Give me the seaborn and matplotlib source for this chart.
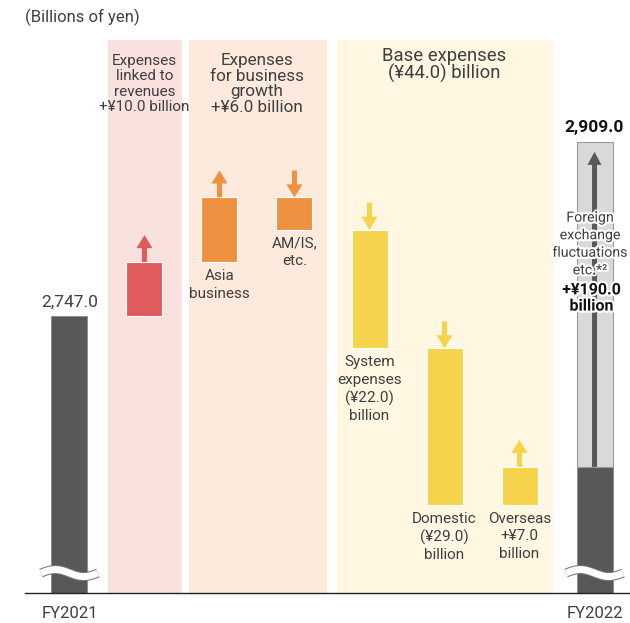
import numpy as np
import matplotlib
matplotlib.use('Agg')
import matplotlib.pyplot as plt
import matplotlib.patheffects as pe
from matplotlib.transforms import offset_copy, blended_transform_factory
import seaborn as sns

# ---- data (billions of yen) ----
categories = ['FY2021', 'Linked to revenues', 'Asia business', 'AM/IS, etc.',
              'System expenses', 'Domestic', 'Overseas', 'FY2022']
start_value = 2747.0
changes = [10.0, 12.0, -6.0, -22.0, -29.0, 7.0]
fx_change = 190.0
end_value = 2909.0
start_label = '2,747.0'
end_label = '2,909.0'
bar_labels = ['', 'Asia\nbusiness', 'AM/IS,\netc.', 'System\nexpenses\n(¥22.0)\nbillion',
              'Domestic\n(¥29.0)\nbillion', 'Overseas\n+¥7.0\nbillion']
group_titles = ['Expenses\nlinked to\nrevenues\n+¥10.0 billion',
                'Expenses\nfor business\ngrowth\n+¥6.0 billion',
                'Base expenses\n(¥44.0) billion']
group_members = [(1, 1), (2, 3), (4, 6)]
fx_text = 'Foreign\nexchange\nfluctuations\netc.*²'
fx_amount = '+¥190.0\nbillion'
tick_labels = ['FY2021', '', '', '', '', '', '', 'FY2022']

# ---- style ----
dark = '#595757'
light = '#d9d9d9'
txt = '#3f3f3f'
bar_colors = ['#e05c5c', '#ee9141', '#ee9141', '#f5d34b', '#f5d34b', '#f5d34b']
band_colors = ['#f9e1de', '#fdeadc', '#fff7e1']
band_pads = [(0.49, 0.50), (0.41, 0.43), (0.43, 0.45)]

sns.set_style('white')
plt.rcParams['font.family'] = ['Roboto', 'DejaVu Sans']

# broken axis: values above brk are squeezed so FY2022 fits
brk, squeeze = 2770.0, 0.067
axis_floor = 2695.6


def fwd(y):
    y = np.asarray(y, dtype=float)
    return np.where(y <= brk, y, brk + (y - brk) * squeeze)


def inv(y):
    y = np.asarray(y, dtype=float)
    return np.where(y <= brk, y, brk + (y - brk) / squeeze)


W, H = 630, 623
fig = plt.figure(figsize=(W / 100, H / 100), dpi=100)
ax = fig.add_axes([25 / W, 30 / H, 605 / W, 553 / H])
ax.set_yscale('function', functions=(fwd, inv))
ax.set_xlim(-0.593, 7.473)
ax.set_ylim(axis_floor, float(inv(2798.2)))

fy = lambda px: 1 - px / H
xdata_yfig = blended_transform_factory(ax.transData, fig.transFigure)

# background bands
for (a, b), c, (pl, pr) in zip(group_members, band_colors, band_pads):
    ax.axvspan(a - pl, b + pr, color=c, lw=0, zorder=0)

bw = 0.48
# FY2021
ax.bar(0, start_value - axis_floor, bottom=axis_floor, width=bw, color=dark,
       edgecolor='#8a8a8a', lw=0.6, zorder=2)

# changes
level = start_value
arrow_len = 19.4  # points
style = 'simple,head_width=1.15,head_length=0.94,tail_width=0.36'
for i, (d, c) in enumerate(zip(changes, bar_colors)):
    x = i + 1
    lo, hi = min(level, level + d), max(level, level + d)
    ax.bar(x, hi - lo, bottom=lo, width=bw, color=c, edgecolor='white', lw=0.8, zorder=2)
    if d > 0:
        tip = offset_copy(ax.transData, fig=fig, y=arrow_len, units='points')
        ax.annotate('', xy=(x, hi), xycoords=tip, xytext=(0, -arrow_len),
                    textcoords='offset points',
                    arrowprops=dict(arrowstyle=style, color=c, shrinkA=0, shrinkB=0, lw=0),
                    zorder=3)
    else:
        ax.annotate('', xy=(x, level), xytext=(0, arrow_len), textcoords='offset points',
                    arrowprops=dict(arrowstyle=style, color=c, shrinkA=0, shrinkB=0, lw=0),
                    zorder=3)
    if bar_labels[i]:
        ax.annotate(bar_labels[i], xy=(x, lo), xytext=(0, -5), textcoords='offset points',
                    ha='center', va='top', fontsize=11, color=txt, linespacing=1.32)
    level += d

# FY2022
ax.bar(7, level - axis_floor, bottom=axis_floor, width=bw, color=dark,
       edgecolor='#8a8a8a', lw=0.6, zorder=2)
ax.bar(7, fx_change, bottom=level, width=bw, color=light, edgecolor='#9a9a9a',
       lw=0.8, zorder=2)
tip = offset_copy(ax.transData, fig=fig, y=-7.2, units='points')
ax.annotate('', xy=(7, end_value), xycoords=tip, xytext=(7, level), textcoords='data',
            arrowprops=dict(arrowstyle='simple,head_width=1.0,head_length=0.94,tail_width=0.36',
                            color=dark, shrinkA=0, shrinkB=0, lw=0), zorder=3)

# value labels
ax.annotate(start_label, xy=(0, start_value), xytext=(0, 10), textcoords='offset points',
            ha='center', va='center', fontsize=12.5, color=txt)
ax.annotate(end_label, xy=(7, end_value), xytext=(0, 10), textcoords='offset points',
            ha='center', va='center', fontsize=12.5, color='#111', fontweight='bold')

halo = [pe.withStroke(linewidth=3, foreground='white')]
ax.text(6.94, fy(244), fx_text, transform=xdata_yfig, ha='center', va='center',
        fontsize=10.2, color=txt, linespacing=1.32, path_effects=halo, zorder=4)
ax.text(6.96, fy(298), fx_amount, transform=xdata_yfig, ha='center', va='center',
        fontsize=11.5, color='#111', fontweight='bold', linespacing=1.1,
        path_effects=halo, zorder=4)

# group titles
title_y = [84, 84, 65]
title_fs = [11, 12.3, 13.3]
title_ls = [1.15, 1.05, 0.95]
for (a, b), t, y, fs, ls in zip(group_members, group_titles, title_y, title_fs, title_ls):
    ax.text((a + b) / 2, fy(y), t, transform=xdata_yfig, ha='center', va='center',
            fontsize=fs, color=txt, linespacing=ls)

fig.text(25 / W, fy(17), '(Billions of yen)', ha='left', va='center', fontsize=12, color=txt)

# axis break marks
t = np.linspace(0, 1, 60)
for x in (0, 7):
    ax.plot(x - 0.38 + 0.76 * t, axis_floor + 3.7 + 0.65 * np.sin(2 * np.pi * t),
            color='white', lw=5, solid_capstyle='butt', zorder=3,
            path_effects=[pe.Stroke(linewidth=6.5, foreground='#777'), pe.Normal()])

# axes styling
for s in ('top', 'right', 'left'):
    ax.spines[s].set_visible(False)
ax.spines['bottom'].set_color('#222')
ax.spines['bottom'].set_linewidth(1)
ax.spines['bottom'].set_zorder(5)
ax.set_yticks([])
ax.set_xticks(range(len(categories)))
ax.set_xticklabels(tick_labels, fontsize=12, color=txt)
ax.tick_params(axis='x', length=0, pad=9)

fig.savefig('out.png', dpi=100)
